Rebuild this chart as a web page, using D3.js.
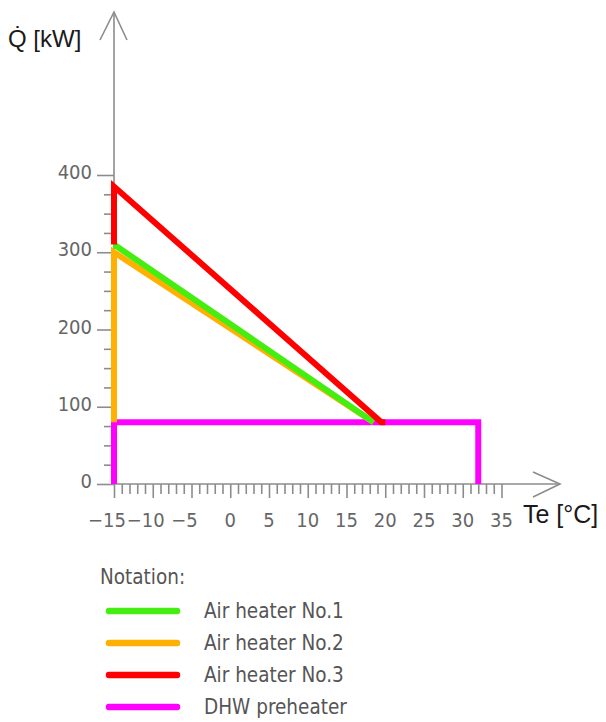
<!DOCTYPE html>
<html>
<head>
<meta charset="utf-8">
<script src="https://cdn.jsdelivr.net/npm/d3@7"></script>
<style>
  body { margin: 0; background: #fff; }
  svg { display: block; }
  .cad { font-family: "DejaVu Sans Condensed", "DejaVu Sans", sans-serif; font-stretch: condensed; }
  .title { font-family: "Liberation Sans", Arial, sans-serif; }
</style>
</head>
<body>
<div id="chart"></div>
<script>
// heat output Q [kW] vs outdoor temperature Te [°C]
var seriesNames = ["Air heater No.1", "Air heater No.2", "Air heater No.3", "DHW preheater"];
var seriesColors = ["#44ee11", "#ffb000", "#ff0000", "#ff00ff"];

var heater1Te = [-15, 18.5];
var heater1Q = [310, 80];
var heater2Te = [-15, -15, 18.5];
var heater2Q = [80, 300, 80];
var heater3Te = [-15, -15, 19.5, 20];
var heater3Q = [310, 385, 80, 80];
var dhwTe = [-15, -15, 32, 32];
var dhwQ = [0, 80, 80, 0];

var xTicks = d3.range(-15, 36, 1);
var xLabels = [-15, -10, -5, 0, 5, 10, 15, 20, 25, 30, 35];
var yTicks = d3.range(0, 401, 25);
var yLabels = [0, 100, 200, 300, 400];

var width = 606, height = 722;

var svg = d3.select("#chart").append("svg")
    .attr("width", width)
    .attr("height", height);

var x = d3.scaleLinear().domain([-15, 35]).range([114, 501.5]);
var y = d3.scaleLinear().domain([0, 400]).range([484, 175]);

var axisColor = "#8c8c8c";

// axis lines with open arrow heads
var axes = svg.append("g")
    .attr("fill", "none")
    .attr("stroke", axisColor)
    .attr("stroke-width", 1.6);

axes.append("line")
    .attr("x1", x(-15)).attr("y1", y(0))
    .attr("x2", x(-15)).attr("y2", 12);
axes.append("path")
    .attr("d", "M" + (x(-15) - 14) + ",40L" + x(-15) + ",12L" + (x(-15) + 13) + ",40");

axes.append("line")
    .attr("x1", x(-15)).attr("y1", y(0))
    .attr("x2", 560).attr("y2", y(0));
axes.append("path")
    .attr("d", "M533," + (y(0) - 12) + "L560," + y(0) + "L533," + (y(0) + 13));

// x ticks
var xAxis = d3.axisBottom(x)
    .tickValues(xTicks)
    .tickSizeOuter(0)
    .tickSize(10)
    .tickFormat("");
var gx = svg.append("g")
    .attr("transform", "translate(0," + y(0) + ")")
    .call(xAxis);
gx.select(".domain").remove();
gx.selectAll(".tick line")
    .attr("stroke", axisColor)
    .attr("stroke-width", 1.6)
    .attr("y2", d => d % 5 == 0 ? 14 : 10);

svg.append("g").attr("class", "cad")
    .selectAll("text")
    .data(xLabels)
    .enter().append("text")
    .attr("x", d => x(d) + (d < 0 ? -7 : 0))
    .attr("y", 527)
    .attr("text-anchor", "middle")
    .attr("font-size", 20)
    .attr("fill", "#666")
    .text(d => d < 0 ? "\u2212" + Math.abs(d) : d);

// y ticks
var yAxis = d3.axisLeft(y)
    .tickValues(yTicks)
    .tickSizeOuter(0)
    .tickSize(10)
    .tickFormat("");
var gy = svg.append("g")
    .attr("transform", "translate(" + x(-15) + ",0)")
    .call(yAxis);
gy.select(".domain").remove();
gy.selectAll(".tick line")
    .attr("stroke", axisColor)
    .attr("stroke-width", 1.6)
    .attr("x2", d => d % 100 == 0 ? -17 : -10);

svg.append("g").attr("class", "cad")
    .selectAll("text")
    .data(yLabels)
    .enter().append("text")
    .attr("x", 92)
    .attr("y", d => y(d) + 4)
    .attr("text-anchor", "end")
    .attr("font-size", 20)
    .attr("fill", "#666")
    .text(d => d);

// axis titles
svg.append("text").attr("class", "title")
    .attr("x", 8).attr("y", 47)
    .attr("font-size", 24)
    .attr("fill", "#1a1a1a")
    .text("Q\u0307 [kW]");

svg.append("text").attr("class", "title")
    .attr("x", 523).attr("y", 523)
    .attr("font-size", 25)
    .attr("fill", "#1a1a1a")
    .text("Te [°C]");

// series
var line = d3.line()
    .x(d => x(d[0]))
    .y(d => y(d[1]));

var series = [
    { name: seriesNames[3], color: seriesColors[3], values: d3.zip(dhwTe, dhwQ) },
    { name: seriesNames[1], color: seriesColors[1], values: d3.zip(heater2Te, heater2Q) },
    { name: seriesNames[0], color: seriesColors[0], values: d3.zip(heater1Te, heater1Q) },
    { name: seriesNames[2], color: seriesColors[2], values: d3.zip(heater3Te, heater3Q) }
];

svg.append("g")
    .selectAll("path")
    .data(series)
    .enter().append("path")
    .attr("d", d => line(d.values))
    .attr("fill", "none")
    .attr("stroke", d => d.color)
    .attr("stroke-width", 6)
    .attr("stroke-linejoin", "miter");

// legend
var legend = svg.append("g").attr("class", "cad");

legend.append("text")
    .attr("x", 100).attr("y", 584)
    .attr("font-size", 20.5)
    .attr("fill", "#555")
    .text("Notation:");

var legendY = d3.scalePoint().domain(seriesNames).range([611, 707]);

var items = legend.selectAll(".item")
    .data(seriesNames)
    .enter().append("g")
    .attr("class", "item")
    .attr("transform", d => "translate(0," + legendY(d) + ")");

items.append("line")
    .attr("x1", 109).attr("x2", 177)
    .attr("stroke", (d, i) => seriesColors[i])
    .attr("stroke-width", 6.5)
    .attr("stroke-linecap", "round");

items.append("text")
    .attr("x", 204).attr("y", 7)
    .attr("font-size", 20.5)
    .attr("fill", "#555")
    .text(d => d);
</script>
</body>
</html>
